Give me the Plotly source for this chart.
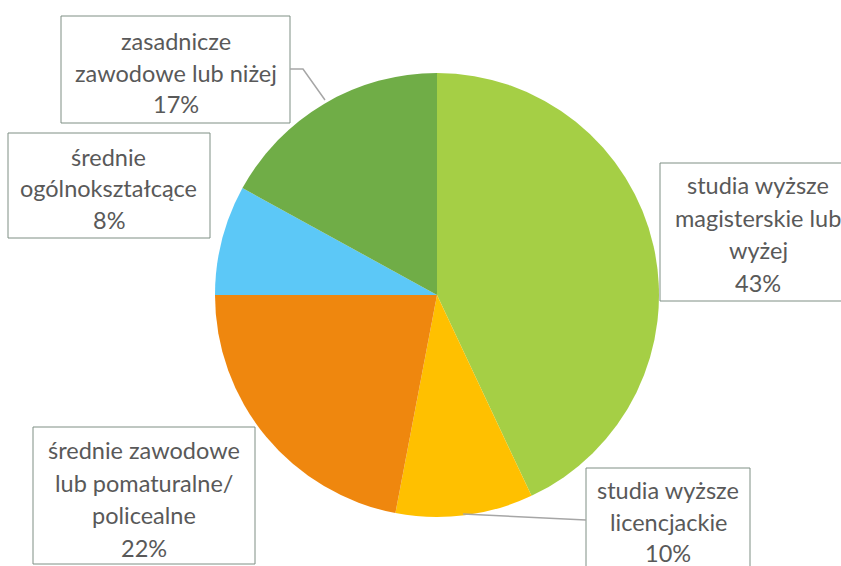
import plotly.graph_objects as go

# Education level shares (clockwise from 12 o'clock)
categories = [
    "studia wyższe magisterskie lub wyżej",
    "studia wyższe licencjackie",
    "średnie zawodowe lub pomaturalne/ policealne",
    "średnie ogólnokształcące",
    "zasadnicze zawodowe lub niżej",
]
values = [43, 10, 22, 8, 17]
colors = ["#A5CF45", "#FFC000", "#EF870E", "#5CC8F7", "#70AD47"]

# Wrapped label lines for each category box
label_lines = [
    ["studia wyższe", "magisterskie lub", "wyżej"],
    ["studia wyższe", "licencjackie"],
    ["średnie zawodowe", "lub pomaturalne/", "policealne"],
    ["średnie", "ogólnokształcące"],
    ["zasadnicze", "zawodowe lub niżej"],
]

W, H = 841, 566
# label boxes: (left, top, right, bottom) in pixels, first line centre y, line step
boxes = [
    (660, 163, 856, 301, 185, 32.5),
    (586, 468, 750, 580, 490, 31.5),
    (33, 427, 255, 564, 450, 32.5),
    (8, 133, 210, 238, 157, 31.5),
    (61, 16, 290, 123, 41, 31.5),
]

FONT = "Lato"
FONT_SIZE = 23.5
TEXT_COLOR = "#595959"
BOX_COLOR = "#7F8F84"
LEADER_COLOR = "#A6A6A6"


def px(x):
    return x / W


def py(y):
    return 1 - y / H


fig = go.Figure(
    go.Pie(
        labels=categories,
        values=values,
        sort=False,
        direction="clockwise",
        rotation=0,
        marker=dict(colors=colors, line=dict(width=0)),
        textinfo="none",
        hoverinfo="label+percent",
        domain=dict(x=[px(215), px(659)], y=[py(517), py(73)]),
    )
)

total = sum(values)
shapes = []
annotations = []
for lines, val, (l, t, r, b, y0, step) in zip(label_lines, values, boxes):
    shapes.append(dict(
        type="rect", xref="paper", yref="paper",
        x0=px(l), x1=px(r), y0=py(b), y1=py(t),
        line=dict(color=BOX_COLOR, width=1), fillcolor="white", layer="above",
    ))
    all_lines = lines + [f"{round(100 * val / total)}%"]
    cx = (l + r) / 2
    for i, txt in enumerate(all_lines):
        annotations.append(dict(
            text=txt, xref="paper", yref="paper",
            x=px(cx), y=py(y0 + i * step),
            xanchor="center", yanchor="middle", showarrow=False,
            font=dict(family=FONT, size=FONT_SIZE, color=TEXT_COLOR),
        ))

# leader lines from slices to their boxes
shapes.append(dict(
    type="path", xref="paper", yref="paper",
    path=f"M {px(290)} {py(69)} L {px(303)} {py(69)} L {px(325)} {py(100)}",
    line=dict(color=LEADER_COLOR, width=1.5),
))
shapes.append(dict(
    type="line", xref="paper", yref="paper",
    x0=px(463), y0=py(514), x1=px(586), y1=py(520),
    line=dict(color=LEADER_COLOR, width=1.5),
))

fig.update_layout(
    width=W, height=H,
    margin=dict(l=0, r=0, t=0, b=0),
    paper_bgcolor="white", plot_bgcolor="white",
    showlegend=False,
    shapes=shapes,
    annotations=annotations,
)

fig.write_html("out.html")
